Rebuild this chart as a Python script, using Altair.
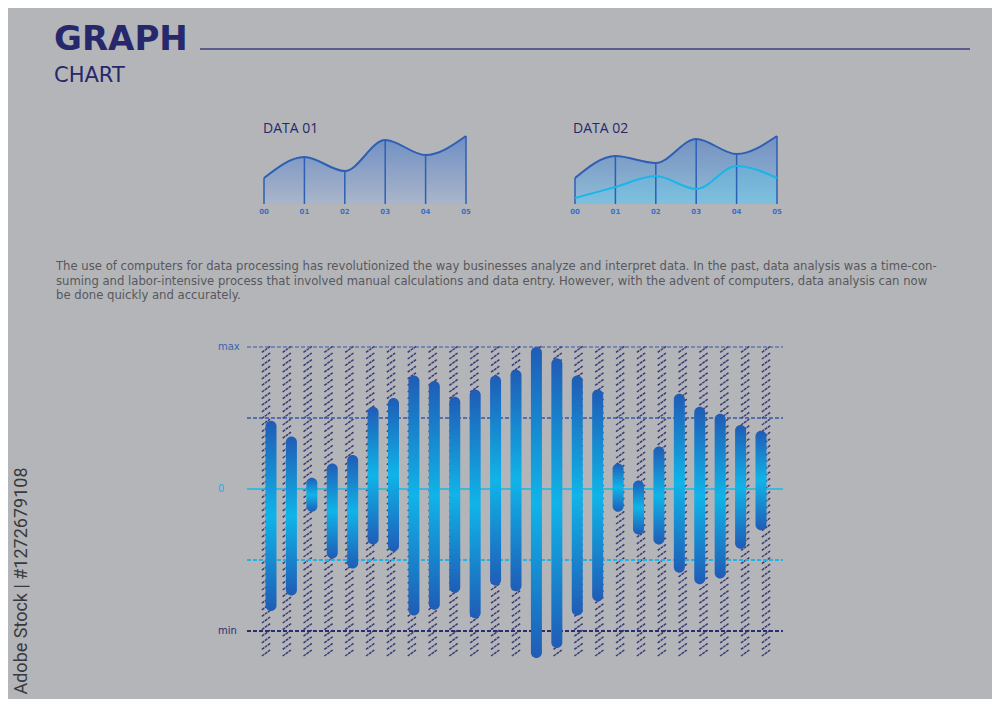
import altair as alt
import pandas as pd

BG = "#b4b5b9"
NAVY = "#26286b"
BLUE = "#2d5fb5"
CYAN = "#1ab6e8"

# ---- small charts ----
x_labels = ["00", "01", "02", "03", "04", "05"]
data01 = [26, 47, 33, 64, 49, 68]
data02_main = [26, 48, 41, 65, 50, 68]
data02_sub = [6, 17, 28, 15, 38, 26]

# ---- bar chart ----
bar_top = [48, 37, 8, 18, 24, 58, 64, 80, 76, 65, 70, 80, 84, 100, 92, 80, 70, 18, 6, 30, 67, 58, 53, 45, 41]
bar_bottom = [-86, -75, -16, -49, -56, -39, -44, -89, -85, -73, -91, -68, -72, -119, -112, -89, -79, -16, -32, -39, -59, -67, -63, -42, -29]
ref_levels = [100, 50, 0, -50, -100]
ref_colors = ["#3458ad", "#3458ad", CYAN, "#22b4e6", "#2a2d6e"]
ref_dashes = [[4, 2], [4, 2], [1, 0], [4, 2], [4, 2]]
ref_widths = [1.2, 1.5, 1.5, 1.8, 2]
axis_labels = ["max", "0", "min"]
axis_label_levels = [100, 0, -100]
axis_label_colors = ["#3a62b6", "#20b0e0", "#2a2d6e"]

paragraph = [
    "The use of computers for data processing has revolutionized the way businesses analyze and interpret data. In the past, data analysis was a time-con-",
    "suming and labor-intensive process that involved manual calculations and data entry. However, with the advent of computers, data analysis can now",
    "be done quickly and accurately.",
]

n_bars = len(bar_top)
n_strokes = 47

# ---- helpers ----
def txt(text, x, y, size, color, weight="normal", font="DejaVu Sans", angle=0, align="left", baseline="alphabetic"):
    return alt.Chart(pd.DataFrame({"a": [0]})).mark_text(
        text=text, font=font, fontSize=size, fontWeight=weight, color=color,
        align=align, baseline=baseline, angle=angle,
    ).encode(x=alt.value(x), y=alt.value(y))

def small_chart(x0, x1, series):
    xs = alt.Scale(domain=[0, 5], range=[x0, x1], nice=False, zero=False)
    ys = alt.Scale(domain=[0, 100], range=[196, 96], nice=False)
    layers = []
    for vals, line_col, grad in series:
        df = pd.DataFrame({"i": list(range(6)), "v": vals})
        area = alt.Chart(df).mark_area(
            interpolate="monotone",
            color=alt.Gradient(gradient="linear", x1=0, x2=0, y1=0, y2=1,
                               stops=[alt.GradientStop(color=grad[0], offset=0),
                                      alt.GradientStop(color=grad[1], offset=1)]),
            opacity=grad[2],
        ).encode(x=alt.X("i:Q", scale=xs, axis=None), y=alt.Y("v:Q", scale=ys, axis=None))
        layers.append(area)
    main = pd.DataFrame({"i": list(range(6)), "v": series[0][0], "lab": x_labels})
    rules = alt.Chart(main).mark_rule(color=BLUE, strokeWidth=1.5).encode(
        x=alt.X("i:Q", scale=xs, axis=None), y=alt.Y("v:Q", scale=ys, axis=None), y2=alt.datum(0))
    layers.append(rules)
    for vals, line_col, grad in series[::-1]:
        df = pd.DataFrame({"i": list(range(6)), "v": vals})
        layers.append(alt.Chart(df).mark_line(interpolate="monotone", color=line_col, strokeWidth=2).encode(
            x=alt.X("i:Q", scale=xs, axis=None), y=alt.Y("v:Q", scale=ys, axis=None)))
    ticks = alt.Chart(main).mark_text(fontSize=7, fontWeight="bold", color="#3a6fc8", baseline="middle",
                                      font="DejaVu Sans").encode(
        x=alt.X("i:Q", scale=xs, axis=None), y=alt.value(204), text="lab:N")
    layers.append(ticks)
    return alt.layer(*layers)

# ---- header ----
title = txt("GRAPH", 46, 42, 34, NAVY, weight="bold")
subtitle = txt("CHART", 46, 74, 21, NAVY)
header_rule = alt.Chart(pd.DataFrame({"a": [0]})).mark_rule(color="#3b3f7e", strokeWidth=1.3).encode(
    x=alt.value(192), x2=alt.value(962), y=alt.value(41))

d1_label = txt("DATA 01", 255, 125, 14, NAVY, font="Open Sans")
d2_label = txt("DATA 02", 565, 125, 14, NAVY, font="Open Sans")

chart01 = small_chart(256, 458, [(data01, BLUE, ("#6f8fc4", "#aab5c9", 1.0))])
chart02 = small_chart(567, 769, [(data02_main, BLUE, ("#7590c0", "#8fbcd6", 1.0)),
                                 (data02_sub, CYAN, ("#5fb4dc", "#6fc4e6", 0.5))])

para = alt.Chart(pd.DataFrame({"a": [0]})).mark_text(
    text=paragraph, font="DejaVu Sans", fontSize=11.65, color="#57585c", align="left",
    baseline="alphabetic", lineHeight=14.5,
).encode(x=alt.value(48), y=alt.value(262))

# ---- bar chart ----
xb = alt.Scale(domain=[0, n_bars - 1], range=[258, 758], nice=False, zero=False)
yb = alt.Scale(domain=[-100, 100], range=[623, 339], nice=False, zero=False)
yh = alt.Scale(domain=[0, 310], range=[649, 339], nice=False, zero=False)

hatch = alt.Chart(alt.sequence(0, n_bars * n_strokes, as_="n")).transform_calculate(
    col=f"floor(datum.n / {n_strokes})",
    k=f"datum.n % {n_strokes}",
).transform_calculate(
    xa="datum.col - 0.2", xb2="datum.col + 0.2", ya="datum.k * 6.6 + 1", yb2="datum.k * 6.6 + 7"
).mark_rule(color="#2b2f6e", strokeWidth=1.5, strokeDash=[3, 0.7], opacity=0.9).encode(
    x=alt.X("xa:Q", scale=xb, axis=None), x2="xb2:Q",
    y=alt.Y("ya:Q", scale=yh, axis=None), y2="yb2:Q")

ref_layers = []
for lvl, col, dash, w in zip(ref_levels, ref_colors, ref_dashes, ref_widths):
    ref_layers.append(alt.Chart(pd.DataFrame({"v": [lvl]})).mark_rule(
        color=col, strokeDash=dash, strokeWidth=w).encode(
        y=alt.Y("v:Q", scale=yb, axis=None), x=alt.value(239), x2=alt.value(775)))

bars_df = pd.DataFrame({"i": list(range(n_bars)), "top": bar_top, "bottom": bar_bottom})
bars = alt.Chart(bars_df).mark_bar(
    size=11, cornerRadius=5.5,
    color=alt.Gradient(gradient="linear", x1=0, x2=0, y1=0, y2=1,
                       stops=[alt.GradientStop(color="#1f5cb6", offset=0),
                              alt.GradientStop(color="#10b4e8", offset=0.5),
                              alt.GradientStop(color="#1f5cb6", offset=1)]),
).encode(x=alt.X("i:Q", scale=xb, axis=None), y=alt.Y("top:Q", scale=yb, axis=None), y2="bottom:Q")

lab_df = pd.DataFrame({"lab": axis_labels, "v": axis_label_levels})
labs = alt.Chart(lab_df).mark_text(align="left", baseline="middle", fontSize=10, font="DejaVu Sans").encode(
    x=alt.value(210), y=alt.Y("v:Q", scale=yb, axis=None), text="lab:N",
    color=alt.Color("lab:N", scale=alt.Scale(domain=axis_labels, range=axis_label_colors), legend=None))

bar_chart = alt.layer(*ref_layers, bars, labs)

side = txt("Adobe Stock | #1272679108", 14, 573, 18, "#3a3a3c", font="Roboto", angle=270,
           align="center", baseline="middle")

chart = alt.layer(
    title, subtitle, header_rule, d1_label, d2_label, chart01, chart02, para, hatch, bar_chart, side
).resolve_scale(x="independent", y="independent", color="independent").properties(
    width=984, height=691, padding=0, autosize=alt.AutoSizeParams(type="none"),
).configure(background=BG).configure_view(stroke=None)

chart.save("out.html", embed_options={"renderer": "svg", "actions": False})
